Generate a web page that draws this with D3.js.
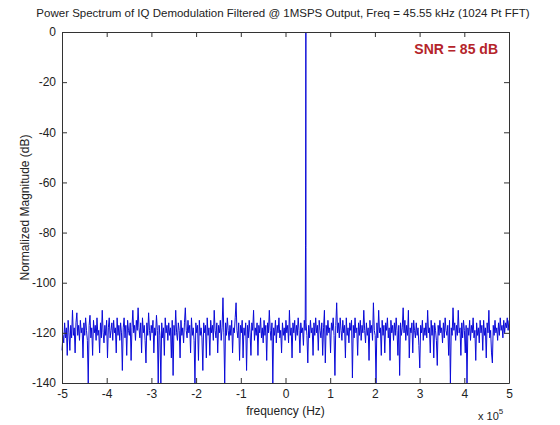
<!DOCTYPE html>
<html>
<head>
<meta charset="utf-8">
<script src="https://cdn.jsdelivr.net/npm/d3@7"></script>
<style>
  body { margin: 0; background: #fff; }
  svg { font-family: "Liberation Sans", Arial, sans-serif; }
  .axis text { font-size: 12px; fill: #222; }
  .axis path, .axis line { stroke: #333; }
</style>
</head>
<body>
<svg id="chart" width="560" height="425"></svg>
<script>
// noise floor, 512 evenly spaced bins from -5 to 5 (x 10^5 Hz)
const noiseDb = [
  -127,-121,-124,-116,-122,-118,-129,-115,-120,-127,-117,-122,-111,-121,-118,-128,-116,-112,-121,-117,-123,-115,-120,-118,-130,-116,-121,-114,-119,-123,-140,-117,
  -113,-122,-118,-129,-115,-120,-117,-123,-114,-121,-119,-128,-116,-122,-111,-120,-124,-117,-121,-115,-130,-118,-114,-122,-119,-116,-123,-115,-120,-118,-128,-114,
  -121,-117,-123,-116,-120,-135,-118,-114,-122,-117,-129,-115,-119,-121,-116,-131,-118,-111,-120,-117,-123,-115,-119,-110,-118,-122,-116,-128,-114,-120,-117,-123,
  -132,-116,-121,-112,-119,-123,-117,-120,-115,-128,-118,-121,-113,-119,-140,-117,-121,-140,-116,-122,-118,-129,-114,-120,-117,-123,-116,-121,-118,-130,-115,-137,
  -117,-121,-111,-120,-123,-116,-119,-130,-115,-121,-118,-124,-116,-110,-119,-122,-115,-120,-117,-128,-114,-121,-118,-123,-140,-116,-120,-117,-131,-115,-121,-118,
  -122,-135,-116,-120,-117,-130,-114,-121,-118,-129,-115,-120,-117,-123,-111,-119,-122,-116,-128,-117,-120,-115,-123,-118,-106,-120,-140,-116,-121,-114,-119,-123,
  -117,-121,-115,-128,-118,-120,-114,-108,-119,-122,-116,-131,-117,-120,-115,-130,-118,-121,-116,-135,-117,-122,-115,-120,-129,-116,-119,-111,-123,-118,-121,-116,
  -129,-117,-120,-114,-122,-118,-124,-115,-121,-117,-131,-116,-120,-111,-119,-123,-116,-140,-118,-121,-115,-124,-117,-120,-114,-122,-119,-128,-116,-121,-118,-123,
  -115,-120,-117,-124,-111,-121,-118,-130,-116,-120,-115,-123,-117,-121,-114,-119,-128,-116,-120,-118,-125,-115,-119,-116,-121,-132,-117,-122,-115,-120,-118,-129,
  -116,-121,-114,-120,-117,-127,-115,-119,-122,-116,-129,-118,-111,-132,-117,-121,-115,-120,-118,-128,-116,-119,-114,-121,-137,-117,-108,-120,-116,-122,-114,-119,
  -123,-115,-120,-117,-130,-114,-121,-118,-124,-116,-119,-115,-138,-117,-122,-114,-120,-118,-129,-116,-121,-115,-123,-117,-120,-111,-119,-124,-116,-121,-118,-131,
  -115,-120,-117,-123,-108,-119,-121,-140,-116,-122,-111,-120,-118,-129,-115,-121,-117,-128,-116,-119,-114,-122,-118,-131,-115,-120,-117,-123,-116,-121,-114,-119,
  -129,-117,-137,-116,-121,-118,-110,-120,-115,-123,-117,-121,-111,-130,-118,-120,-116,-128,-115,-119,-122,-116,-121,-118,-125,-134,-117,-120,-115,-123,-118,-121,
  -116,-122,-111,-120,-118,-128,-115,-121,-117,-130,-116,-119,-123,-133,-117,-121,-115,-120,-118,-124,-116,-122,-114,-119,-121,-117,-129,-115,-140,-118,-121,-110,
  -119,-116,-123,-117,-121,-111,-120,-118,-129,-116,-122,-115,-119,-128,-117,-140,-118,-121,-115,-123,-117,-120,-114,-122,-119,-131,-116,-121,-118,-124,-115,-120,
  -117,-127,-115,-121,-118,-130,-116,-120,-111,-122,-119,-128,-132,-117,-121,-115,-120,-118,-123,-116,-121,-114,-119,-117,-122,-115,-120,-116,-118,-114,-119,-115
];

// the tone at 45.55 kHz
const spikeFreq = [0.448, 0.4555, 0.458];
const spikeDb = [-85, 0, -86];

const xTicks = [-5, -4, -3, -2, -1, 0, 1, 2, 3, 4, 5];
const yTicks = [0, -20, -40, -60, -80, -100, -120, -140];

const title = 'Power Spectrum of IQ Demodulation Filtered @ 1MSPS Output, Freq = 45.55 kHz (1024 Pt FFT)';

const margin = {left: 62, right: 51, top: 32, bottom: 42};
const width = 560, height = 425;

const svg = d3.select('#chart');

const x = d3.scaleLinear().domain([-5, 5]).range([margin.left, width - margin.right]);
const y = d3.scaleLinear().domain([-140, 0]).range([height - margin.bottom, margin.top]);

const step = 10 / (noiseDb.length - 1);
let points = noiseDb.map((v, i) => ({f: -5 + i * step, db: v}));
spikeFreq.forEach((f, i) => points.push({f: f, db: spikeDb[i]}));
points.sort((a, b) => a.f - b.f);

// matlab prints a plain hyphen, not the unicode minus
const plain = d => String(d);

/* Trace */
const line = d3.line().x(d => x(d.f)).y(d => y(d.db));
svg.append('path')
  .datum(points)
  .attr('d', line)
  .attr('fill', 'none')
  .attr('stroke', '#0a0ad8')
  .attr('stroke-width', 1);

/* Axes, box with inward ticks */
svg.append('g').attr('class', 'axis')
  .attr('transform', 'translate(0,' + y(-140) + ')')
  .call(d3.axisBottom(x).tickValues(xTicks).tickFormat(plain).tickSize(-5).tickSizeOuter(0).tickPadding(6));

svg.append('g').attr('class', 'axis')
  .attr('transform', 'translate(0,' + y(0) + ')')
  .call(d3.axisTop(x).tickValues(xTicks).tickSize(-5).tickSizeOuter(0).tickFormat(''));

svg.append('g').attr('class', 'axis')
  .attr('transform', 'translate(' + x(-5) + ',0)')
  .call(d3.axisLeft(y).tickValues(yTicks).tickFormat(plain).tickSize(-5).tickSizeOuter(0).tickPadding(6));

svg.append('g').attr('class', 'axis')
  .attr('transform', 'translate(' + x(5) + ',0)')
  .call(d3.axisRight(y).tickValues(yTicks).tickSize(-5).tickSizeOuter(0).tickFormat(''));

/* Texts */
svg.append('text')
  .attr('x', 283).attr('y', 17)
  .attr('text-anchor', 'middle')
  .style('font-size', '11.5px').attr('fill', '#222')
  .text(title);

svg.append('text')
  .attr('transform', 'translate(29,' + ((margin.top + height - margin.bottom) / 2) + ') rotate(-90)')
  .attr('text-anchor', 'middle')
  .style('font-size', '12px').attr('fill', '#222')
  .text('Normalized Magnitude (dB)');

svg.append('text')
  .attr('x', x(0)).attr('y', 415)
  .attr('text-anchor', 'middle')
  .style('font-size', '12px').attr('fill', '#222')
  .text('frequency (Hz)');

const expo = svg.append('text')
  .attr('x', 478).attr('y', 420)
  .style('font-size', '11px').attr('fill', '#222');
expo.append('tspan').text('x 10');
expo.append('tspan').attr('dy', -6).style('font-size', '8px').text('5');

svg.append('text')
  .attr('x', 498).attr('y', 54)
  .attr('text-anchor', 'end')
  .style('font-size', '14px').style('font-weight', 'bold')
  .attr('fill', '#b5242a')
  .text('SNR = 85 dB');
</script>
</body>
</html>
